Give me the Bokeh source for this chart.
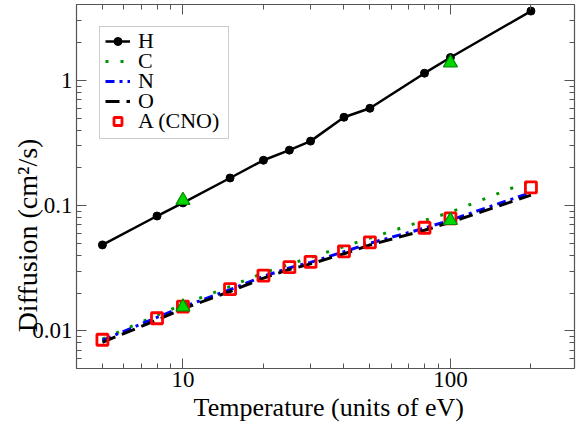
from bokeh.plotting import figure
from bokeh.models import LogAxis, FixedTicker, Legend, LegendItem, Range1d, BoxAnnotation
from bokeh.embed import file_html
from bokeh.resources import INLINE

# ---- data ----
T = [5, 8, 10, 15, 20, 25, 30, 40, 50, 80, 100, 200]
H = [0.0485, 0.0825, 0.105, 0.166, 0.23, 0.277, 0.327, 0.507, 0.598, 1.14, 1.52, 3.57]
C = [0.0086, 0.0133, 0.0162, 0.0226, 0.0290, 0.0340, 0.0385, 0.0470, 0.0550, 0.0760, 0.0885, 0.158]
N = [0.0084, 0.0128, 0.0155, 0.0213, 0.0272, 0.0318, 0.0352, 0.0428, 0.0500, 0.0660, 0.0765, 0.127]
O = [0.0081, 0.0122, 0.0150, 0.0206, 0.0263, 0.0309, 0.0342, 0.0412, 0.0484, 0.0635, 0.0735, 0.121]
A_CNO = [0.00848, 0.0126, 0.0156, 0.0215, 0.0276, 0.0322, 0.0355, 0.0431, 0.0509, 0.0665, 0.0790, 0.1396]
T_tri = [10, 100, 10, 100]
D_tri = [0.110, 1.38, 0.0155, 0.0760]

series_names = ["H", "C", "N", "O", "A (CNO)"]
x_major = [10, 100]
x_minor = [4, 5, 6, 7, 8, 9, 20, 30, 40, 50, 60, 70, 80, 90, 200]
y_major = [0.01, 0.1, 1]
y_minor = [0.005, 0.006, 0.007, 0.008, 0.009, 0.02, 0.03, 0.04, 0.05, 0.06, 0.07, 0.08, 0.09,
           0.2, 0.3, 0.4, 0.5, 0.6, 0.7, 0.8, 0.9, 2, 3, 4]
x_labels = {10: "10", 100: "100"}
y_labels = {0.01: "0.01", 0.1: "0.1", 1: "1"}
x_title = "\u00a0Temperature (units of eV)"
y_title = "Diffusion (cm²/s)" + "\u00a0" * 14

FONT = "Liberation Serif"
AXC = "#555555"

p = figure(width=576, height=428, x_axis_type="log", y_axis_type="log",
           x_range=Range1d(4, 291), y_range=Range1d(0.005, 4.03),
           output_backend="svg", toolbar_location=None,
           min_border_left=76, min_border_right=2, min_border_top=4, min_border_bottom=60)
p.outline_line_color = None
p.grid.visible = False
p.background_fill_color = "white"
p.border_fill_color = "white"

def style_axis(ax, major, minor, labels, show_labels=True):
    ax.ticker = FixedTicker(ticks=major, minor_ticks=minor)
    ax.axis_line_color = AXC
    ax.axis_line_width = 1.2
    ax.major_tick_line_color = AXC
    ax.minor_tick_line_color = AXC
    ax.major_tick_in = 10
    ax.major_tick_out = 0
    ax.minor_tick_in = 5
    ax.minor_tick_out = 0
    if show_labels:
        ax.major_label_overrides = labels
        ax.major_label_text_font = FONT
        ax.major_label_text_font_size = "23px"
        ax.major_label_text_color = "black"
        ax.major_label_standoff = 4
        ax.axis_label_text_font = FONT
        ax.axis_label_text_font_style = "normal"
        ax.axis_label_text_color = "black"
    else:
        ax.major_label_overrides = {k: "" for k in labels}
        ax.major_label_text_font_size = "0px"
        ax.major_label_standoff = 0

style_axis(p.xaxis[0], x_major, x_minor, x_labels)
style_axis(p.yaxis[0], y_major, y_minor, y_labels)
p.xaxis[0].axis_label = x_title
p.xaxis[0].axis_label_text_font_size = "26px"
p.xaxis[0].axis_label_standoff = 3
p.xaxis[0].major_label_standoff = 3
p.yaxis[0].axis_label = y_title
p.yaxis[0].axis_label_text_font_size = "28px"
p.yaxis[0].axis_label_standoff = -14
top = LogAxis()
right = LogAxis()
style_axis(top, x_major, x_minor, x_labels, show_labels=False)
style_axis(right, y_major, y_minor, y_labels, show_labels=False)
p.add_layout(top, "above")
p.add_layout(right, "right")

# ---- series ----
rH = p.line(T, H, line_color="black", line_width=2.5)
rHc = p.scatter(T, H, marker="circle", size=8, fill_color="black", line_color="black")
rC = p.line(T, C, line_color="#009400", line_width=3, line_dash="3 12")
rN = p.line(T, N, line_color="#0000ff", line_width=3, line_dash="9 5 3 5")
rO = p.line(T, O, line_color="black", line_width=3, line_dash="14 7")
rA = p.scatter(T, A_CNO, marker="square", size=11, fill_color="white", fill_alpha=0.0,
               line_color="#ff0000", line_width=2.8)
rT = p.scatter(T_tri, D_tri, marker="triangle", size=14, fill_color="#00d800",
               line_color="#008a00", line_width=1.2)

# ---- legend: framed box + one single-item legend per row (20 px row pitch) ----
box = BoxAnnotation(left=23, right=152, bottom=230, top=342,
                    left_units="screen", right_units="screen",
                    bottom_units="screen", top_units="screen",
                    fill_color="white", fill_alpha=1.0,
                    line_color=AXC, line_width=1)
p.add_layout(box)

row_renderers = [[rH, rHc], [rC], [rN], [rO], [rA]]
for i, (name, rends) in enumerate(zip(series_names, row_renderers)):
    lg = Legend(items=[LegendItem(label=name, renderers=rends)],
                location=(29, 314 - 20 * i))
    lg.label_text_font = FONT
    lg.label_text_font_size = "22px"
    lg.label_text_color = "black"
    lg.glyph_width = 25
    lg.glyph_height = 20
    lg.label_height = 20
    lg.label_standoff = 8
    lg.spacing = 0
    lg.padding = 0
    lg.margin = 0
    lg.border_line_color = None
    lg.background_fill_alpha = 0.0
    p.add_layout(lg)

open("out.html", "w").write(file_html(p, INLINE))
